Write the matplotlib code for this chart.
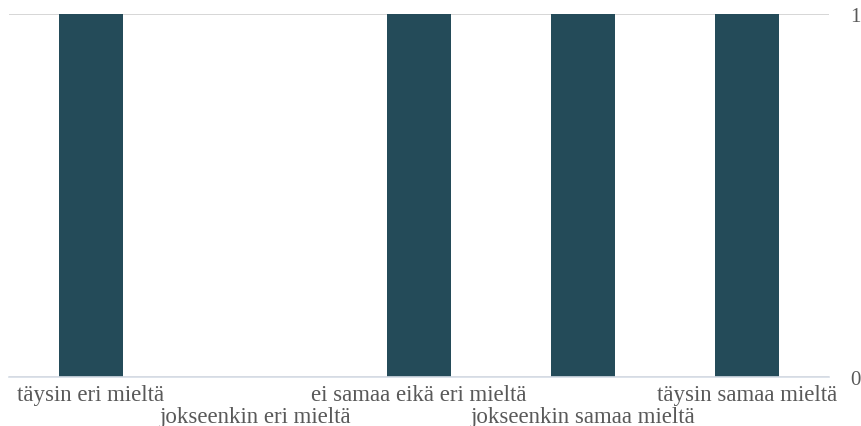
import matplotlib
matplotlib.use('Agg')
import matplotlib.pyplot as plt

# data
categories = ['täysin eri mieltä', 'jokseenkin eri mieltä', 'ei samaa eikä eri mieltä',
              'jokseenkin samaa mieltä', 'täysin samaa mieltä']
values = [1, 0, 1, 1, 1]
y_ticks = [0, 1]

bar_color = '#244b59'
text_color = '#595959'

plt.rcParams['font.family'] = ['Liberation Serif', 'DejaVu Serif']

fig = plt.figure(figsize=(8.62, 4.27), dpi=100)
ax = fig.add_axes([9 / 862, 1 - 378 / 427, 820 / 862, 363 / 427])

x = list(range(len(categories)))
ax.bar(x, values, width=0.39, color=bar_color, zorder=2)
ax.set_xlim(-0.5, len(categories) - 0.5)
ax.set_ylim(0, 1)

# right-side value axis, gridline at 1
ax.yaxis.tick_right()
ax.set_yticks(y_ticks)
ax.set_yticklabels([str(t) for t in y_ticks], fontsize=15, color=text_color)
ax.tick_params(axis='y', length=0, pad=15)
ax.grid(axis='y', color='#d0d0d0', linewidth=1.2, zorder=0)

# staggered category labels
ax.set_xticks(x)
ax.set_xticklabels([])
ax.tick_params(axis='x', length=0)
for i, lab in enumerate(categories):
    off = -12.5 if i % 2 == 0 else -28.5
    ax.annotate(lab, xy=(i, 0), xytext=(0, off), textcoords='offset points',
                xycoords='data', ha='center', va='center', fontsize=16.5,
                color=text_color, annotation_clip=False)

for s in ['top', 'left', 'right']:
    ax.spines[s].set_visible(False)
ax.spines['bottom'].set_color('#d6dde6')
ax.spines['bottom'].set_linewidth(1.2)

fig.savefig('out.png', dpi=100)
